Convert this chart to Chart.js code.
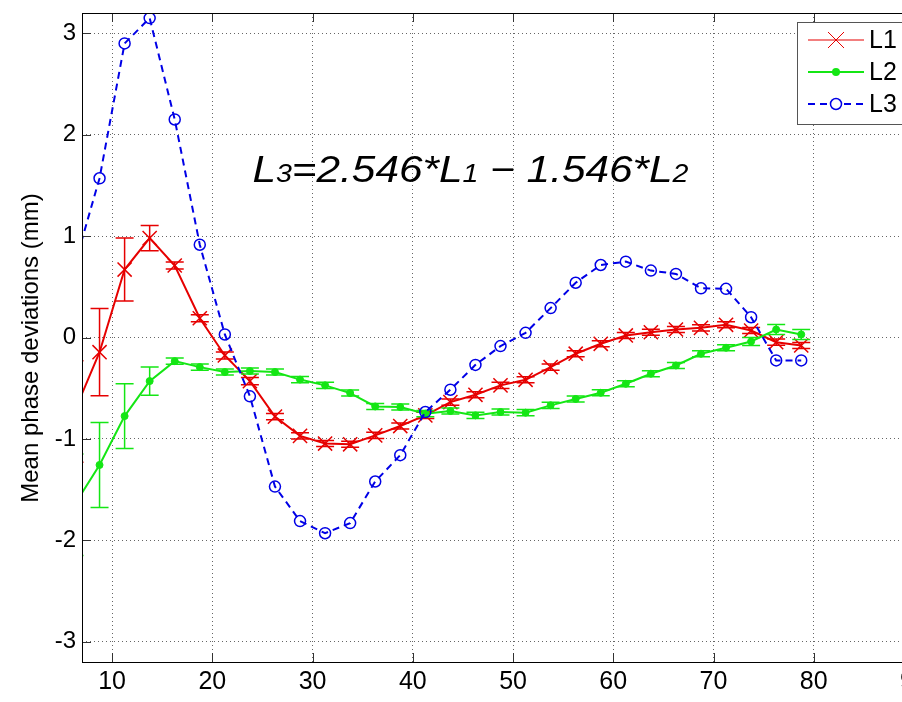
<!DOCTYPE html>
<html lang="en">
<head>
  <meta charset="UTF-8">
  <title>Mean phase deviations</title>
  <script src="https://cdn.jsdelivr.net/npm/chart.js"></script>
  <style>
    html, body { margin: 0; padding: 0; background: #fff; overflow: hidden; }
    #wrap { width: 902px; height: 702px; overflow: hidden; }
    canvas { display: block; }
  </style>
</head>
<body>
  <div id="wrap"><canvas id="phaseChart" width="960" height="702"></canvas></div>

  <script>
    // positions of the samples along x
    const xs = [6.25, 8.75, 11.25, 13.75, 16.25, 18.75, 21.25, 23.75, 26.25, 28.75,
                31.25, 33.75, 36.25, 38.75, 41.25, 43.75, 46.25, 48.75, 51.25, 53.75,
                56.25, 58.75, 61.25, 63.75, 66.25, 68.75, 71.25, 73.75, 76.25, 78.75];

    const l1 = [-0.73, -0.145, 0.67, 0.98, 0.71, 0.19, -0.177, -0.43, -0.78, -0.97,
                -1.046, -1.053, -0.965, -0.873, -0.768, -0.637, -0.565, -0.472, -0.417, -0.292,
                -0.16, -0.062, 0.02, 0.052, 0.079, 0.095, 0.125, 0.069, -0.046, -0.079];
    const l1Err = [0.5, 0.43, 0.31, 0.125, 0.035, 0.035, 0.035, 0.035, 0.03, 0.03,
                   0.03, 0.03, 0.03, 0.03, 0.03, 0.03, 0.03, 0.03, 0.03, 0.03,
                   0.03, 0.03, 0.03, 0.03, 0.03, 0.03, 0.03, 0.03, 0.03, 0.03];

    const l2 = [-1.65, -1.257, -0.775, -0.43, -0.233, -0.292, -0.341, -0.331, -0.341, -0.415,
                -0.472, -0.548, -0.68, -0.686, -0.751, -0.725, -0.768, -0.735, -0.741, -0.669,
                -0.606, -0.545, -0.456, -0.357, -0.276, -0.16, -0.101, -0.039, 0.079, 0.03];
    const l2Err = [0.5, 0.42, 0.32, 0.14, 0.03, 0.03, 0.03, 0.03, 0.03, 0.03,
                   0.03, 0.03, 0.03, 0.03, 0.03, 0.03, 0.03, 0.03, 0.03, 0.03,
                   0.03, 0.03, 0.03, 0.03, 0.03, 0.03, 0.03, 0.04, 0.05, 0.05];

    const l3 = [0.71, 1.57, 2.90, 3.15, 2.15, 0.915, 0.03, -0.58, -1.47, -1.81,
                -1.93, -1.83, -1.42, -1.16, -0.735, -0.515, -0.27, -0.085, 0.046, 0.29,
                0.54, 0.715, 0.748, 0.66, 0.627, 0.485, 0.48, 0.20, -0.226, -0.226];

    const xTicks = [10, 20, 30, 40, 50, 60, 70, 80, 90];
    const yTicks = [-3, -2, -1, 0, 1, 2, 3];

    const FONT = '"Liberation Sans", Arial, sans-serif';
    const RED = '#e60000';
    const GREEN = '#14e614';
    const BLUE = '#0000e6';

    const pts = vals => xs.map((x, i) => ({ x: x, y: vals[i] }));

    // vertical error bars with caps, drawn right after their own dataset
    const errorBars = {
      id: 'errorBars',
      afterDatasetDraw(chart, args) {
        const ds = chart.data.datasets[args.index];
        if (!ds.errors) return;
        const { ctx, chartArea: a, scales: { x, y } } = chart;
        ctx.save();
        ctx.beginPath();
        ctx.rect(a.left, a.top, a.right - a.left, a.bottom - a.top);
        ctx.clip();
        ctx.strokeStyle = ds.borderColor;
        ctx.lineWidth = 1.5;
        ds.data.forEach((p, i) => {
          const px = x.getPixelForValue(p.x);
          const hi = y.getPixelForValue(p.y + ds.errors[i]);
          const lo = y.getPixelForValue(p.y - ds.errors[i]);
          ctx.beginPath();
          ctx.moveTo(px, hi); ctx.lineTo(px, lo);
          ctx.moveTo(px - 9, hi); ctx.lineTo(px + 9, hi);
          ctx.moveTo(px - 9, lo); ctx.lineTo(px + 9, lo);
          ctx.stroke();
        });
        ctx.restore();
      }
    };

    // box, inward ticks, y title, formula and legend
    const decorations = {
      id: 'decorations',
      afterDraw(chart) {
        const { ctx, chartArea: a, scales: { x, y } } = chart;
        ctx.save();

        // inward tick marks
        ctx.strokeStyle = '#333';
        ctx.lineWidth = 1;
        ctx.beginPath();
        xTicks.forEach(v => {
          const px = Math.round(x.getPixelForValue(v)) + 0.5;
          ctx.moveTo(px, a.bottom); ctx.lineTo(px, a.bottom - 9);
          ctx.moveTo(px, a.top); ctx.lineTo(px, a.top + 9);
        });
        yTicks.forEach(v => {
          const py = Math.round(y.getPixelForValue(v)) + 0.5;
          ctx.moveTo(a.left, py); ctx.lineTo(a.left + 9, py);
          ctx.moveTo(a.right, py); ctx.lineTo(a.right - 9, py);
        });
        ctx.stroke();

        // axes box
        ctx.strokeStyle = '#000';
        ctx.strokeRect(Math.round(a.left) + 0.5, Math.round(a.top) + 0.5,
                       Math.round(a.right - a.left), Math.round(a.bottom - a.top));

        // y axis title
        ctx.fillStyle = '#000';
        ctx.font = '24px ' + FONT;
        ctx.textAlign = 'center';
        ctx.textBaseline = 'middle';
        ctx.translate(31, 348);
        ctx.rotate(-Math.PI / 2);
        ctx.fillText('Mean phase deviations (mm)', 0, 0);
        ctx.restore();

        // formula
        ctx.save();
        const parts = [['L', 37], ['3', 25], ['=2.546*L', 37], ['1', 25],
                       [' \u2212 1.546*L', 37], ['2', 25]];
        let w = 0;
        parts.forEach(p => { ctx.font = 'italic ' + p[1] + 'px ' + FONT; w += ctx.measureText(p[0]).width; });
        const fx = x.getPixelForValue(24.0);
        const fy = y.getPixelForValue(1.53);
        ctx.translate(fx, fy);
        ctx.scale(436 / w, 1);
        ctx.fillStyle = '#000';
        ctx.textBaseline = 'alphabetic';
        let cx = 0;
        parts.forEach(p => {
          ctx.font = 'italic ' + p[1] + 'px ' + FONT;
          ctx.fillText(p[0], cx, 0);
          cx += ctx.measureText(p[0]).width;
        });
        ctx.restore();

        // legend
        ctx.save();
        ctx.fillStyle = '#fff';
        ctx.fillRect(797.5, 22.5, 200, 102);
        ctx.strokeStyle = '#555';
        ctx.lineWidth = 1;
        ctx.strokeRect(797.5, 22.5, 200, 102);
        const rows = [
          { label: 'L1', color: RED, y: 40, dash: [], marker: 'x' },
          { label: 'L2', color: GREEN, y: 72, dash: [], marker: 'dot' },
          { label: 'L3', color: BLUE, y: 104, dash: [7, 5], marker: 'o' }
        ];
        rows.forEach(r => {
          ctx.strokeStyle = r.color;
          ctx.lineWidth = r.marker === 'x' ? 1.2 : 2;
          ctx.setLineDash(r.dash);
          ctx.beginPath();
          ctx.moveTo(808, r.y); ctx.lineTo(864, r.y);
          ctx.stroke();
          ctx.setLineDash([]);
          ctx.beginPath();
          if (r.marker === 'x') {
            ctx.lineWidth = 1;
            ctx.moveTo(828, r.y - 8); ctx.lineTo(844, r.y + 8);
            ctx.moveTo(828, r.y + 8); ctx.lineTo(844, r.y - 8);
            ctx.stroke();
          } else if (r.marker === 'dot') {
            ctx.fillStyle = r.color;
            ctx.arc(836, r.y, 4, 0, Math.PI * 2);
            ctx.fill();
          } else {
            ctx.fillStyle = '#fff';
            ctx.lineWidth = 1.5;
            ctx.arc(836, r.y, 5.5, 0, Math.PI * 2);
            ctx.fill();
            ctx.stroke();
          }
          ctx.fillStyle = '#000';
          ctx.font = '25px ' + FONT;
          ctx.textAlign = 'left';
          ctx.textBaseline = 'middle';
          ctx.fillText(r.label, 869, r.y + 1);
        });
        ctx.restore();
      }
    };

    const ctx = document.getElementById('phaseChart').getContext('2d');
    const phaseChart = new Chart(ctx, {
      type: 'line',
      data: {
        datasets: [
          {
            label: 'L1',
            data: pts(l1),
            errors: l1Err,
            borderColor: RED,
            borderWidth: 2,
            pointStyle: 'crossRot',
            pointRadius: 10,
            pointBorderWidth: 1.5,
            pointBorderColor: RED,
            order: 3
          },
          {
            label: 'L2',
            data: pts(l2),
            errors: l2Err,
            borderColor: GREEN,
            borderWidth: 2,
            pointStyle: 'circle',
            pointRadius: 3.5,
            pointBorderWidth: 1,
            pointBackgroundColor: GREEN,
            pointBorderColor: GREEN,
            order: 2
          },
          {
            label: 'L3',
            data: pts(l3),
            borderColor: BLUE,
            borderWidth: 2,
            borderDash: [7, 5],
            pointStyle: 'circle',
            pointRadius: 5.5,
            pointBorderWidth: 1.5,
            pointBackgroundColor: 'rgba(0,0,0,0)',
            pointBorderColor: BLUE,
            order: 1
          }
        ]
      },
      options: {
        responsive: false,
        animation: false,
        layout: { padding: { top: 13, right: 46, left: 0, bottom: 0 } },
        plugins: {
          legend: { display: false },
          tooltip: { enabled: false }
        },
        elements: { line: { tension: 0 } },
        scales: {
          x: {
            type: 'linear',
            min: 7,
            max: 90,
            afterFit: s => { s.height = 40; s.paddingLeft = 0; s.paddingRight = 0; },
            afterBuildTicks: s => { s.ticks = xTicks.map(v => ({ value: v })); },
            grid: { color: '#666', lineWidth: 1, drawTicks: false },
            border: { display: false, dash: [1, 3] },
            ticks: { color: '#000', font: { family: FONT, size: 25 }, padding: 5, maxRotation: 0 }
          },
          y: {
            min: -3.2,
            max: 3.2,
            afterFit: s => { s.width = 82; s.paddingTop = 0; s.paddingBottom = 0; },
            afterBuildTicks: s => { s.ticks = yTicks.map(v => ({ value: v })); },
            grid: { color: '#666', lineWidth: 1, drawTicks: false },
            border: { display: false, dash: [1, 3] },
            ticks: { color: '#000', font: { family: FONT, size: 24 }, padding: 6 }
          }
        }
      },
      plugins: [errorBars, decorations]
    });
  </script>
</body>
</html>
